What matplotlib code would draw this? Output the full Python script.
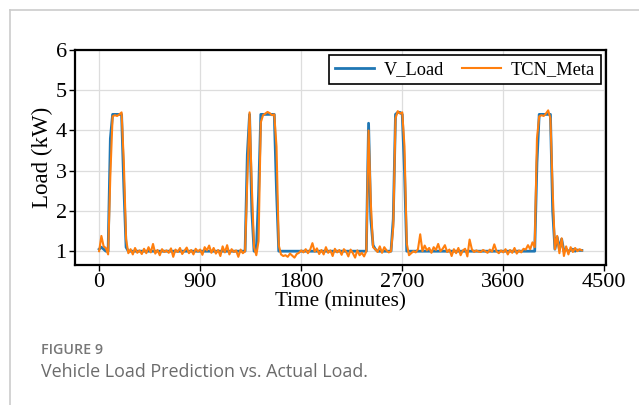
import numpy as np
import matplotlib
matplotlib.use("Agg")
import matplotlib.pyplot as plt
from matplotlib.lines import Line2D

# time axis: 0..4300 minutes, 20-minute steps
time_min = list(range(0, 4301, 20))

v_load = [
    1.05, 1.10, 1.05, 1.00, 1.00, 3.80, 4.40, 4.40, 4.40, 4.40,
    4.40, 2.60, 1.10, 1.00, 1.00, 1.00, 1.00, 1.00, 1.00, 1.00,
    1.00, 1.00, 1.00, 1.00, 1.00, 1.00, 1.00, 1.00, 1.00, 1.00,
    1.00, 1.00, 1.00, 1.00, 1.00, 1.00, 1.00, 1.00, 1.00, 1.00,
    1.00, 1.00, 1.00, 1.00, 1.00, 1.00, 1.00, 1.00, 1.00, 1.00,
    1.00, 1.00, 1.00, 1.00, 1.00, 1.00, 1.00, 1.00, 1.00, 1.00,
    1.00, 1.00, 1.00, 1.00, 1.00, 1.00, 3.40, 4.40, 2.00, 1.00,
    1.00, 2.40, 4.40, 4.40, 4.40, 4.40, 4.40, 4.40, 4.40, 2.50,
    1.00, 1.00, 1.00, 1.00, 1.00, 1.00, 1.00, 1.00, 1.00, 1.00,
    1.00, 1.00, 1.00, 1.00, 1.00, 1.00, 1.00, 1.00, 1.00, 1.00,
    1.00, 1.00, 1.00, 1.00, 1.00, 1.00, 1.00, 1.00, 1.00, 1.00,
    1.00, 1.00, 1.00, 1.00, 1.00, 1.00, 1.00, 1.00, 1.00, 1.00,
    4.18, 1.80, 1.15, 1.05, 1.00, 1.00, 1.00, 1.00, 1.00, 1.00,
    1.00, 1.80, 4.40, 4.45, 4.45, 4.40, 3.00, 1.00, 1.00, 1.00,
    1.00, 1.00, 1.00, 1.00, 1.00, 1.00, 1.00, 1.00, 1.00, 1.00,
    1.00, 1.00, 1.00, 1.00, 1.00, 1.00, 1.00, 1.00, 1.00, 1.00,
    1.00, 1.00, 1.00, 1.00, 1.00, 1.00, 1.00, 1.00, 1.00, 1.00,
    1.00, 1.00, 1.00, 1.00, 1.00, 1.00, 1.00, 1.00, 1.00, 1.00,
    1.00, 1.00, 1.00, 1.00, 1.00, 1.00, 1.00, 1.00, 1.00, 1.00,
    1.00, 1.00, 1.00, 1.00, 1.00, 3.20, 4.40, 4.40, 4.40, 4.40,
    4.40, 4.40, 2.00, 1.05, 1.35, 1.05, 1.30, 1.00, 1.05, 1.00,
    1.02, 1.05, 1.00, 1.03, 1.02, 1.02,
]

tcn_meta = [
    1.00, 1.38, 1.12, 1.08, 0.92, 2.90, 4.35, 4.38, 4.36, 4.40,
    4.45, 3.20, 1.30, 0.95, 1.05, 0.92, 1.08, 0.96, 1.02, 0.93,
    1.06, 0.95, 1.10, 0.97, 1.18, 0.94, 1.03, 0.90, 1.05, 0.98,
    1.02, 0.96, 1.07, 0.86, 1.04, 0.98, 1.08, 0.93, 1.01, 1.09,
    0.95, 1.03, 0.92, 1.06, 0.99, 1.04, 0.91, 1.10, 1.02, 1.14,
    0.96, 1.08, 0.94, 1.03, 0.88, 1.12, 0.97, 1.15, 0.92, 1.05,
    0.98, 1.02, 0.86, 1.04, 0.95, 1.00, 2.80, 4.45, 2.60, 1.10,
    0.90, 1.25, 4.20, 4.38, 4.42, 4.46, 4.43, 4.38, 4.40, 3.60,
    1.15, 0.92, 0.88, 0.90, 0.86, 0.94, 0.89, 0.84, 0.93, 0.96,
    1.02, 0.97, 1.05, 0.95, 1.04, 1.20, 0.99, 1.07, 0.93, 1.03,
    0.92, 1.10, 0.96, 1.02, 0.88, 1.06, 0.97, 1.03, 0.91, 1.05,
    0.99, 0.87, 1.04, 0.95, 0.84, 1.02, 0.90, 0.96, 0.87, 1.00,
    4.00, 2.20, 1.10, 1.05, 0.98, 1.12, 0.96, 1.10, 1.02, 0.97,
    1.00, 1.60, 4.30, 4.48, 4.42, 4.45, 3.60, 1.20, 0.90, 0.95,
    1.00, 0.97, 1.05, 1.42, 1.00, 1.14, 1.02, 1.08, 0.96, 1.10,
    1.03, 1.18, 1.00, 1.06, 1.15, 0.98, 1.04, 0.88, 1.05, 0.95,
    1.08, 0.90, 1.02, 1.06, 0.87, 1.29, 1.05, 0.98, 1.02, 0.99,
    0.98, 1.03, 1.00, 0.96, 1.04, 0.99, 1.17, 1.00, 0.95, 1.02,
    0.97, 1.05, 0.92, 1.03, 0.96, 1.08, 0.94, 1.02, 0.97, 1.06,
    1.04, 1.15, 1.05, 1.22, 1.10, 3.80, 4.35, 4.38, 4.36, 4.42,
    4.50, 4.30, 2.50, 1.05, 1.38, 0.95, 1.32, 0.88, 1.12, 0.92,
    1.10, 0.98, 1.08, 1.00, 1.05, 1.02,
]

x_ticks = [0, 900, 1800, 2700, 3600, 4500]
y_ticks = [1, 2, 3, 4, 5, 6]

serif = ["Liberation Serif", "DejaVu Serif"]
sans = ["Open Sans", "DejaVu Sans"]

fig = plt.figure(figsize=(6.39, 4.05), dpi=100)
fig.patch.set_facecolor("white")

# page frame lines (left and top)
fig.add_artist(Line2D([10/639, 10/639], [0, 1 - 10/405], color="#cccccc", lw=1.2,
                      transform=fig.transFigure))
fig.add_artist(Line2D([10/639, 1], [1 - 10/405, 1 - 10/405], color="#cccccc", lw=1.2,
                      transform=fig.transFigure))

ax = fig.add_axes([75/639, 1 - 265/405, (606 - 75)/639, (265 - 50)/405])
ax.plot(time_min, v_load, color="#1f77b4", lw=2.0, label="V_Load", zorder=3)
ax.plot(time_min, tcn_meta, color="#ff7f0e", lw=1.5, label="TCN_Meta", zorder=4)

ax.set_xticks(x_ticks)
ax.set_yticks(y_ticks)
ax.set_ylim(top=6)
ax.grid(True, color="#dddddd", lw=0.9)
ax.set_axisbelow(True)
for s in ax.spines.values():
    s.set_linewidth(1.6)
    s.set_color("black")
ax.tick_params(direction="out", length=4, width=1, labelsize=16, pad=2)
for lab in ax.get_xticklabels() + ax.get_yticklabels():
    lab.set_family(serif)
ax.set_xlabel("Time (minutes)", fontsize=15.3, family=serif, labelpad=0)
ax.set_ylabel("Load (kW)", fontsize=16.5, family=serif, labelpad=2)

leg = ax.legend(loc="upper right", ncol=2, prop={"family": serif, "size": 13.2},
                fancybox=False, edgecolor="black", framealpha=1,
                handlelength=2.1, handletextpad=0.55, columnspacing=1.0,
                borderaxespad=0.25, borderpad=0.35)
leg.get_frame().set_linewidth(1.2)

fig.text(41/639, 1 - 350/405, "FIGURE 9", fontsize=10.3, color="#777777",
         family=sans, fontweight="semibold", va="center", ha="left")
fig.text(41/639, 1 - 372/405, "Vehicle Load Prediction vs. Actual Load.", fontsize=12.9,
         color="#6b6b6b", family=sans, va="center", ha="left")

fig.savefig("out.png", dpi=100)
